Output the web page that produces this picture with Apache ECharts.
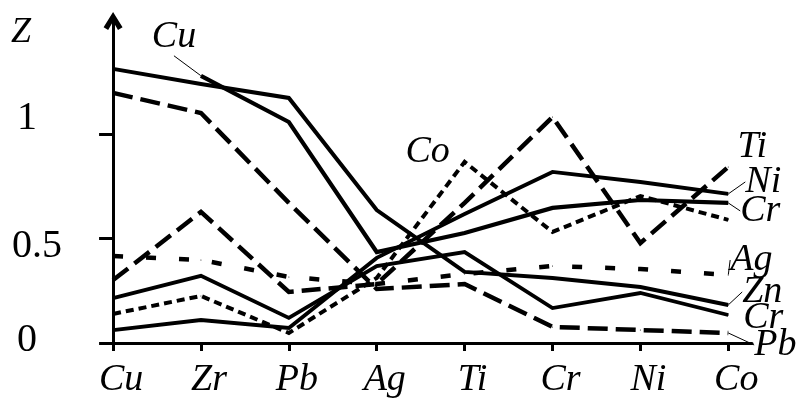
<!DOCTYPE html>
<html>
<head>
<meta charset="utf-8">
<script src="https://cdn.jsdelivr.net/npm/echarts@6/dist/echarts.min.js"></script>
<style>html,body{margin:0;padding:0;background:#fff;}#c{width:799px;height:400px;}</style>
</head>
<body>
<div id="c"></div>
<script>
// ---- data ----
const categories = ['Cu', 'Zr', 'Pb', 'Ag', 'Ti', 'Cr', 'Ni', 'Co'];
const yTickValues = [0, 0.5, 1];
const yTickLabels = ['0', '0.5', '1'];
const axisName = 'Z';

const znValues   = [1.311, 1.239, 1.172, 0.636, 0.340, 0.311, 0.268, 0.182];
const cuCrValues = [null, 1.278, 1.057, 0.435, 0.526, 0.646, 0.684, 0.670];
const niValues   = [0.062, 0.110, 0.072, 0.407, 0.617, 0.818, 0.770, 0.713];
const cr2Values  = [0.215, 0.321, 0.120, 0.368, 0.435, 0.167, 0.239, 0.134];
const tiValues   = [0.301, 0.627, 0.244, 0.282, 0.670, 1.081, 0.478, 0.842];
const coValues   = [0.139, 0.225, 0.048, 0.311, 0.866, 0.531, 0.703, 0.589];
const agValues   = [0.416, 0.397, 0.316, 0.282, 0.330, 0.368, 0.354, 0.325];
const pbValues   = [1.196, 1.100, 0.670, 0.258, 0.282, 0.077, 0.062, 0.048];

// label texts attached to points: [seriesKey, categoryIndex, text]
const pointLabels = [
  ['cuCr', 1, 'Cu'], ['co', 4, 'Co'],
  ['ti', 7, 'Ti'], ['ni', 7, 'Ni'], ['cuCr', 7, 'Cr'], ['ag', 7, 'Ag'],
  ['zn', 7, 'Zn'], ['cr2', 7, 'Cr'], ['pb', 7, 'Pb']
];

// ---- styles (not data) ----
const FONT = '"Liberation Serif", "Times New Roman", Times, serif';
const labelStyle = {
  'cuCr-1': {dx: -27, dy: -39, leader: true},
  'co-4':   {dx: -37, dy: -10, leader: false},
  'ti-7':   {dx: 24, dy: -20, leader: false},
  'ni-7':   {dx: 35, dy: -12, leader: true},
  'cuCr-7': {dx: 32, dy: 8, leader: true},
  'ag-7':   {dx: 23, dy: -15, leader: true},
  'zn-7':   {dx: 34, dy: -13, leader: true},
  'cr2-7':  {dx: 35, dy: 3, leader: false},
  'pb-7':   {dx: 47, dy: 12, leader: true}
};
const lineDefs = [
  {key: 'zn',   values: znValues,   type: 'solid',  width: 4},
  {key: 'cuCr', values: cuCrValues, type: 'solid',  width: 4.2},
  {key: 'ni',   values: niValues,   type: 'solid',  width: 3.8},
  {key: 'cr2',  values: cr2Values,  type: 'solid',  width: 3.8},
  {key: 'ti',   values: tiValues,   type: [19, 8],  width: 4.5},
  {key: 'co',   values: coValues,   type: [8, 5],   width: 4},
  {key: 'ag',   values: agValues,   type: [10, 23], width: 4.5},
  {key: 'pb',   values: pbValues,   type: [20, 8],  width: 4.5}
];

const series = lineDefs.map((d, si) => {
  const data = d.values.map((v, i) => {
    const lab = pointLabels.find(p => p[0] === d.key && p[1] === i);
    if (!lab) return [i, v];
    const st = labelStyle[d.key + '-' + i];
    return {
      value: [i, v],
      label: {show: true, formatter: lab[2]},
      labelLine: {show: st.leader, lineStyle: {color: '#000', width: 1}}
    };
  });
  return {
    type: 'line',
    name: d.key,
    data: data,
    symbol: 'circle',
    symbolSize: 1,
    showSymbol: true,
    connectNulls: false,
    itemStyle: {color: '#000'},
    lineStyle: {color: '#000', width: d.width, type: d.type, cap: 'butt', join: 'miter'},
    label: {
      show: false, position: 'inside',
      fontFamily: FONT, fontStyle: 'italic', fontSize: 38, color: '#000'
    },
    labelLine: {show: false, lineStyle: {color: '#000', width: 1}},
    labelLayout: function (params) {
      const st = labelStyle[d.key + '-' + params.dataIndex];
      return st ? {dx: st.dx, dy: st.dy} : {};
    },
    emphasis: {disabled: true},
    silent: true
  };
});

const chart = echarts.init(document.getElementById('c'), null, {renderer: 'canvas'});
chart.setOption({
  animation: false,
  backgroundColor: '#fff',
  title: {
    text: axisName, left: 11, top: 15, padding: 0,
    textStyle: {fontFamily: FONT, fontStyle: 'italic', fontWeight: 'normal', fontSize: 36, color: '#000'}
  },
  grid: {left: 110, right: 47, top: 21, bottom: 57, outerBoundsMode: 'none', containLabel: false},
  xAxis: {
    type: 'value',
    min: -0.035, max: 7.27,
    offset: 7,
    axisLine: {show: true, lineStyle: {color: '#000', width: 3}},
    axisTick: {show: true, inside: false, length: 8, lineStyle: {color: '#000', width: 3},
      customValues: categories.map((c, i) => i)},
    axisLabel: {
      customValues: categories.map((c, i) => i),
      formatter: v => categories[Math.round(v)] || '',
      fontFamily: FONT, fontStyle: 'italic', fontSize: 38, color: '#000',
      margin: 11, padding: [0, 0, 0, 16]
    },
    splitLine: {show: false}
  },
  yAxis: {
    type: 'value',
    min: 0, max: 1.54,
    offset: 31,
    axisLine: {show: true, lineStyle: {color: '#000', width: 3},
      symbol: ['none', 'path://M0,8 L5,0 L10,8 L7.6,9.5 L5,5 L2.4,9.5 Z'],
      symbolSize: [20, 18]},
    axisTick: {show: true, inside: false, length: 14, lineStyle: {color: '#000', width: 3},
      customValues: yTickValues},
    axisLabel: {
      customValues: yTickValues,
      align: 'center',
      margin: 49,
      formatter: v => {
        const idx = yTickValues.indexOf(v);
        const t = yTickLabels[idx];
        if (v === 1) return '{up|' + t + '}';
        if (v === 0.5) return '{dn|' + t + '}';
        return '{z|' + t + '}';
      },
      rich: {
        up: {fontFamily: FONT, fontSize: 40, color: '#000', padding: [0, 6, 30, 0]},
        dn: {fontFamily: FONT, fontSize: 40, color: '#000', padding: [17, 0, 0, 14]},
        z:  {fontFamily: FONT, fontSize: 40, color: '#000', padding: [0, 6, 6, 0]}
      }
    },
    splitLine: {show: false}
  },
  series: series
});
</script>
</body>
</html>
